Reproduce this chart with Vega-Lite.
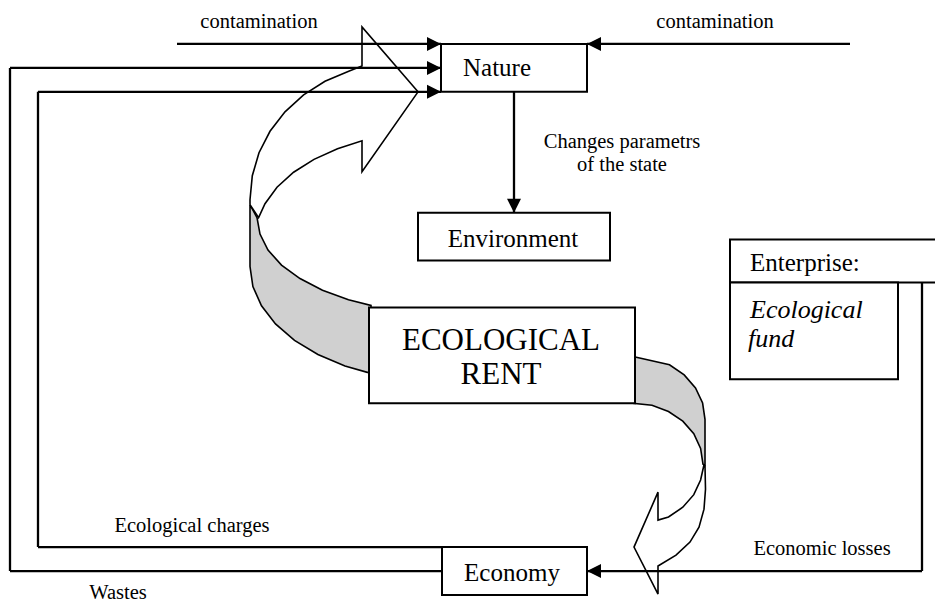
{
  "$schema": "https://vega.github.io/schema/vega-lite/v6.json",
  "width": 935,
  "height": 604,
  "padding": 0,
  "autosize": {"type": "fit", "contains": "padding"},
  "background": "white",
  "config": {"view": {"stroke": null}},
  "datasets": {
    "shapes": [
      {"poly": "A", "side": "front", "i": 0, "x": 250, "y": 205},
      {"poly": "A", "side": "front", "i": 1, "x": 250, "y": 200},
      {"poly": "A", "side": "front", "i": 2, "x": 252.3, "y": 176},
      {"poly": "A", "side": "front", "i": 3, "x": 259, "y": 153},
      {"poly": "A", "side": "front", "i": 4, "x": 270, "y": 131.5},
      {"poly": "A", "side": "front", "i": 5, "x": 285, "y": 112},
      {"poly": "A", "side": "front", "i": 6, "x": 303.6, "y": 95},
      {"poly": "A", "side": "front", "i": 7, "x": 325, "y": 81.4},
      {"poly": "A", "side": "front", "i": 8, "x": 348.7, "y": 71.3},
      {"poly": "A", "side": "front", "i": 9, "x": 362, "y": 66},
      {"poly": "A", "side": "front", "i": 10, "x": 362, "y": 27},
      {"poly": "A", "side": "front", "i": 11, "x": 418, "y": 92},
      {"poly": "A", "side": "front", "i": 12, "x": 362, "y": 172},
      {"poly": "A", "side": "front", "i": 13, "x": 362, "y": 141},
      {"poly": "A", "side": "front", "i": 14, "x": 337.5, "y": 149},
      {"poly": "A", "side": "front", "i": 15, "x": 314, "y": 159.6},
      {"poly": "A", "side": "front", "i": 16, "x": 293.6, "y": 172.5},
      {"poly": "A", "side": "front", "i": 17, "x": 277, "y": 187.5},
      {"poly": "A", "side": "front", "i": 18, "x": 265, "y": 204},
      {"poly": "A", "side": "front", "i": 19, "x": 258.6, "y": 218},
      {"poly": "A", "side": "front", "i": 20, "x": 250, "y": 205},

      {"poly": "B", "side": "back", "i": 0, "x": 250, "y": 205},
      {"poly": "B", "side": "back", "i": 1, "x": 257, "y": 218},
      {"poly": "B", "side": "back", "i": 2, "x": 260, "y": 234.5},
      {"poly": "B", "side": "back", "i": 3, "x": 268, "y": 250.5},
      {"poly": "B", "side": "back", "i": 4, "x": 281.5, "y": 265.5},
      {"poly": "B", "side": "back", "i": 5, "x": 300, "y": 279},
      {"poly": "B", "side": "back", "i": 6, "x": 322.5, "y": 290.8},
      {"poly": "B", "side": "back", "i": 7, "x": 348.5, "y": 300.3},
      {"poly": "B", "side": "back", "i": 8, "x": 371, "y": 306},
      {"poly": "B", "side": "back", "i": 9, "x": 371, "y": 373},
      {"poly": "B", "side": "back", "i": 10, "x": 367.3, "y": 373},
      {"poly": "B", "side": "back", "i": 11, "x": 345, "y": 366.6},
      {"poly": "B", "side": "back", "i": 12, "x": 317.9, "y": 355.1},
      {"poly": "B", "side": "back", "i": 13, "x": 294.5, "y": 340.9},
      {"poly": "B", "side": "back", "i": 14, "x": 275.5, "y": 324.5},
      {"poly": "B", "side": "back", "i": 15, "x": 261.5, "y": 306.3},
      {"poly": "B", "side": "back", "i": 16, "x": 252.9, "y": 287},
      {"poly": "B", "side": "back", "i": 17, "x": 250, "y": 267},
      {"poly": "B", "side": "back", "i": 18, "x": 250, "y": 205},

      {"poly": "C", "side": "back", "i": 0, "x": 633, "y": 357},
      {"poly": "C", "side": "back", "i": 1, "x": 669.5, "y": 365.4},
      {"poly": "C", "side": "back", "i": 2, "x": 684.2, "y": 375.5},
      {"poly": "C", "side": "back", "i": 3, "x": 695.5, "y": 388.5},
      {"poly": "C", "side": "back", "i": 4, "x": 702.6, "y": 403.7},
      {"poly": "C", "side": "back", "i": 5, "x": 705, "y": 420},
      {"poly": "C", "side": "back", "i": 6, "x": 705, "y": 466},
      {"poly": "C", "side": "back", "i": 7, "x": 703, "y": 465},
      {"poly": "C", "side": "back", "i": 8, "x": 700.6, "y": 449.2},
      {"poly": "C", "side": "back", "i": 9, "x": 693.8, "y": 434.5},
      {"poly": "C", "side": "back", "i": 10, "x": 682.8, "y": 421.9},
      {"poly": "C", "side": "back", "i": 11, "x": 668.5, "y": 412.2},
      {"poly": "C", "side": "back", "i": 12, "x": 652, "y": 406},
      {"poly": "C", "side": "back", "i": 13, "x": 633, "y": 404},
      {"poly": "C", "side": "back", "i": 14, "x": 633, "y": 357},

      {"poly": "D", "side": "front", "i": 0, "x": 704, "y": 465.5},
      {"poly": "D", "side": "front", "i": 1, "x": 700.6, "y": 480.8},
      {"poly": "D", "side": "front", "i": 2, "x": 693.8, "y": 495.5},
      {"poly": "D", "side": "front", "i": 3, "x": 682.8, "y": 508.1},
      {"poly": "D", "side": "front", "i": 4, "x": 668.5, "y": 517.8},
      {"poly": "D", "side": "front", "i": 5, "x": 658, "y": 521},
      {"poly": "D", "side": "front", "i": 6, "x": 658, "y": 493},
      {"poly": "D", "side": "front", "i": 7, "x": 634, "y": 548},
      {"poly": "D", "side": "front", "i": 8, "x": 658, "y": 595},
      {"poly": "D", "side": "front", "i": 9, "x": 658, "y": 567},
      {"poly": "D", "side": "front", "i": 10, "x": 676, "y": 556},
      {"poly": "D", "side": "front", "i": 11, "x": 690, "y": 543},
      {"poly": "D", "side": "front", "i": 12, "x": 699, "y": 528},
      {"poly": "D", "side": "front", "i": 13, "x": 704, "y": 510},
      {"poly": "D", "side": "front", "i": 14, "x": 705.5, "y": 490},
      {"poly": "D", "side": "front", "i": 15, "x": 705, "y": 467},
      {"poly": "D", "side": "front", "i": 16, "x": 704, "y": 465.5}
    ],
    "arrows": [
      {"name": "contamination left", "x": 177, "y": 44, "x2": 441, "y2": 44, "head": "right"},
      {"name": "contamination right", "x": 850, "y": 44, "x2": 587, "y2": 44, "head": "left"},
      {"name": "wastes top", "x": 10, "y": 68, "x2": 441, "y2": 68, "head": "right"},
      {"name": "charges top", "x": 38, "y": 92, "x2": 441, "y2": 92, "head": "right"},
      {"name": "wastes side", "x": 10, "y": 68, "x2": 10, "y2": 572, "head": "none"},
      {"name": "charges side", "x": 38, "y": 92, "x2": 38, "y2": 548, "head": "none"},
      {"name": "wastes bottom", "x": 10, "y": 572, "x2": 442, "y2": 572, "head": "none"},
      {"name": "charges bottom", "x": 38, "y": 548, "x2": 442, "y2": 548, "head": "none"},
      {"name": "state change", "x": 514, "y": 92, "x2": 514, "y2": 213, "head": "down"},
      {"name": "losses side", "x": 922, "y": 283, "x2": 922, "y2": 572, "head": "none"},
      {"name": "losses bottom", "x": 922, "y": 572, "x2": 587, "y2": 572, "head": "left"}
    ],
    "boxes": [
      {"name": "Nature", "x": 441, "x2": 587, "y": 44, "y2": 92},
      {"name": "Environment", "x": 418, "x2": 610, "y": 213, "y2": 261},
      {"name": "Ecological rent", "x": 369, "x2": 635, "y": 308, "y2": 404},
      {"name": "Economy", "x": 442, "x2": 587, "y": 548, "y2": 596},
      {"name": "Enterprise", "x": 730, "x2": 945, "y": 240, "y2": 283},
      {"name": "Ecological fund", "x": 730, "x2": 898, "y": 283, "y2": 380}
    ],
    "labels": [
      {"text": "contamination", "kind": "small", "x": 259, "y": 22},
      {"text": "contamination", "kind": "small", "x": 715, "y": 22},
      {"text": "Changes parametrs", "kind": "small", "x": 622, "y": 142},
      {"text": "of the state", "kind": "small", "x": 622, "y": 165},
      {"text": "Ecological charges", "kind": "small", "x": 192, "y": 527},
      {"text": "Wastes", "kind": "small", "x": 118, "y": 594},
      {"text": "Economic losses", "kind": "small", "x": 822, "y": 550},
      {"text": "Nature", "kind": "boxleft", "x": 463, "y": 68},
      {"text": "Environment", "kind": "box", "x": 513, "y": 239},
      {"text": "Economy", "kind": "box", "x": 512, "y": 574},
      {"text": "Enterprise:", "kind": "boxleft", "x": 750, "y": 263},
      {"text": "Ecological", "kind": "italic", "x": 750, "y": 311},
      {"text": "fund", "kind": "italic", "x": 748, "y": 340},
      {"text": "ECOLOGICAL", "kind": "big", "x": 501, "y": 342},
      {"text": "RENT", "kind": "big", "x": 501, "y": 376}
    ]
  },
  "encoding": {
    "x": {"field": "x", "type": "quantitative", "scale": {"domain": [0, 935], "nice": false, "zero": false}, "axis": null},
    "y": {"field": "y", "type": "quantitative", "scale": {"domain": [0, 604], "nice": false, "zero": false, "reverse": true}, "axis": null}
  },
  "layer": [
    {
      "data": {"name": "shapes"},
      "transform": [{"filter": "datum.side === 'back'"}],
      "mark": {"type": "line", "fill": "#d0d0d0", "stroke": "black", "strokeWidth": 1.6, "strokeJoin": "miter"},
      "encoding": {
        "detail": {"field": "poly"},
        "order": {"field": "i", "type": "quantitative"}
      }
    },
    {
      "data": {"name": "shapes"},
      "transform": [{"filter": "datum.side === 'front'"}],
      "mark": {"type": "line", "fill": "white", "stroke": "black", "strokeWidth": 1.6, "strokeJoin": "miter"},
      "encoding": {
        "detail": {"field": "poly"},
        "order": {"field": "i", "type": "quantitative"}
      }
    },
    {
      "data": {"name": "arrows"},
      "mark": {"type": "rule", "color": "black", "strokeWidth": 2.3},
      "encoding": {
        "x2": {"field": "x2"},
        "y2": {"field": "y2"}
      }
    },
    {
      "data": {"name": "boxes"},
      "mark": {"type": "rect", "fill": "white", "stroke": "black", "strokeWidth": 2, "clip": true},
      "encoding": {
        "x2": {"field": "x2"},
        "y2": {"field": "y2"}
      }
    },
    {
      "data": {"name": "arrows"},
      "transform": [{"filter": "datum.head === 'right'"}],
      "mark": {"type": "point", "filled": true, "fill": "black", "opacity": 1, "strokeWidth": 0, "size": 784, "shape": "M -1 -0.5 L 0 0 L -1 0.5 Z"},
      "encoding": {
        "x": {"field": "x2", "type": "quantitative"},
        "y": {"field": "y2", "type": "quantitative"}
      }
    },
    {
      "data": {"name": "arrows"},
      "transform": [{"filter": "datum.head === 'left'"}],
      "mark": {"type": "point", "filled": true, "fill": "black", "opacity": 1, "strokeWidth": 0, "size": 784, "shape": "M 1 -0.5 L 0 0 L 1 0.5 Z"},
      "encoding": {
        "x": {"field": "x2", "type": "quantitative"},
        "y": {"field": "y2", "type": "quantitative"}
      }
    },
    {
      "data": {"name": "arrows"},
      "transform": [{"filter": "datum.head === 'down'"}],
      "mark": {"type": "point", "filled": true, "fill": "black", "opacity": 1, "strokeWidth": 0, "size": 784, "shape": "M -0.5 -1 L 0 0 L 0.5 -1 Z"},
      "encoding": {
        "x": {"field": "x2", "type": "quantitative"},
        "y": {"field": "y2", "type": "quantitative"}
      }
    },
    {
      "data": {"name": "labels"},
      "transform": [{"filter": "datum.kind === 'small'"}],
      "mark": {"type": "text", "font": "Liberation Serif", "fontSize": 20.5, "color": "black", "align": "center", "baseline": "middle"},
      "encoding": {"text": {"field": "text"}}
    },
    {
      "data": {"name": "labels"},
      "transform": [{"filter": "datum.kind === 'box'"}],
      "mark": {"type": "text", "font": "Liberation Serif", "fontSize": 25, "color": "black", "align": "center", "baseline": "middle"},
      "encoding": {"text": {"field": "text"}}
    },
    {
      "data": {"name": "labels"},
      "transform": [{"filter": "datum.kind === 'boxleft'"}],
      "mark": {"type": "text", "font": "Liberation Serif", "fontSize": 25, "color": "black", "align": "left", "baseline": "middle"},
      "encoding": {"text": {"field": "text"}}
    },
    {
      "data": {"name": "labels"},
      "transform": [{"filter": "datum.kind === 'italic'"}],
      "mark": {"type": "text", "font": "Liberation Serif", "fontSize": 26, "fontStyle": "italic", "color": "black", "align": "left", "baseline": "middle"},
      "encoding": {"text": {"field": "text"}}
    },
    {
      "data": {"name": "labels"},
      "transform": [{"filter": "datum.kind === 'big'"}],
      "mark": {"type": "text", "font": "Liberation Serif", "fontSize": 31, "color": "black", "align": "center", "baseline": "middle"},
      "encoding": {"text": {"field": "text"}}
    }
  ]
}
